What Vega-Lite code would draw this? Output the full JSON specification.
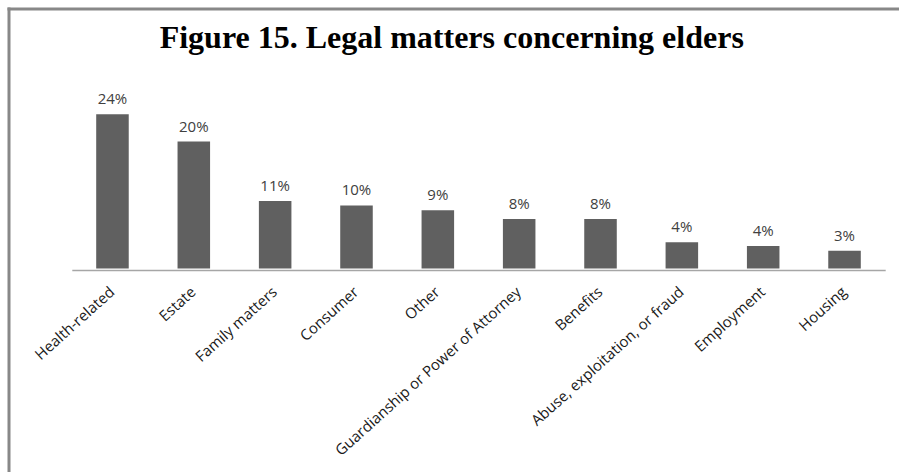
{
  "$schema": "https://vega.github.io/schema/vega-lite/v6.json",
  "width": 899,
  "height": 472,
  "autosize": {"type": "fit", "contains": "padding"},
  "padding": {"left": 8.5, "top": 8.5, "right": 0, "bottom": 0},
  "background": "white",
  "config": {
    "view": {"stroke": null}
  },
  "title": {
    "text": "Figure 15. Legal matters concerning elders",
    "font": "Liberation Serif",
    "fontSize": 32,
    "fontWeight": "bold",
    "color": "#000000",
    "anchor": "middle",
    "offset": -46,
    "dx": -2
  },
  "data": {
    "values": [
      {"category": "Health-related", "value": 0.240, "label": "24%"},
      {"category": "Estate", "value": 0.1975, "label": "20%"},
      {"category": "Family matters", "value": 0.105, "label": "11%"},
      {"category": "Consumer", "value": 0.098, "label": "10%"},
      {"category": "Other", "value": 0.0907, "label": "9%"},
      {"category": "Guardianship or Power of Attorney", "value": 0.077, "label": "8%"},
      {"category": "Benefits", "value": 0.077, "label": "8%"},
      {"category": "Abuse, exploitation, or fraud", "value": 0.041, "label": "4%"},
      {"category": "Employment", "value": 0.035, "label": "4%"},
      {"category": "Housing", "value": 0.0275, "label": "3%"}
    ]
  },
  "resolve": {"scale": {"x": "independent", "y": "independent"}, "axis": {"x": "independent", "y": "independent"}},
  "layer": [
    {
      "encoding": {
        "x": {
          "field": "category",
          "type": "nominal",
          "sort": null,
          "scale": {"range": [63.3, 876.7], "paddingInner": 0.6, "paddingOuter": 0.3},
          "axis": {
            "title": null,
            "orient": "bottom",
            "offset": -202,
            "labelAngle": -42,
            "labelAlign": "right",
            "labelBaseline": "top",
            "labelFont": "Open Sans",
            "labelFontSize": 15,
            "labelColor": "#1a1a1a",
            "labelPadding": 14,
            "labelOffset": -5,
            "labelLimit": 400,
            "ticks": false,
            "domainColor": "#a6a6a6",
            "domainWidth": 1.5,
            "grid": false
          }
        },
        "y": {
          "field": "value",
          "type": "quantitative",
          "scale": {"domain": [0, 0.24], "range": [260, 105.7], "nice": false, "zero": true},
          "axis": null
        }
      },
      "layer": [
        {"mark": {"type": "bar", "color": "#606060"}},
        {
          "mark": {"type": "text", "baseline": "bottom", "dy": -7, "font": "Open Sans", "fontSize": 15, "color": "#404040"},
          "encoding": {"text": {"field": "label"}}
        }
      ]
    },
    {
      "mark": {"type": "point", "opacity": 0},
      "encoding": {
        "x": {
          "field": "value",
          "type": "quantitative",
          "scale": {"domain": [0, 1], "nice": false},
          "axis": {"orient": "top", "title": null, "labels": false, "ticks": false, "grid": false, "domainColor": "#888888", "domainWidth": 3, "domainCap": "square"}
        },
        "y": {
          "field": "value",
          "type": "quantitative",
          "scale": {"domain": [0, 1], "nice": false},
          "axis": {"orient": "left", "title": null, "labels": false, "ticks": false, "grid": false, "domainColor": "#888888", "domainWidth": 3, "domainCap": "square"}
        }
      }
    }
  ]
}
